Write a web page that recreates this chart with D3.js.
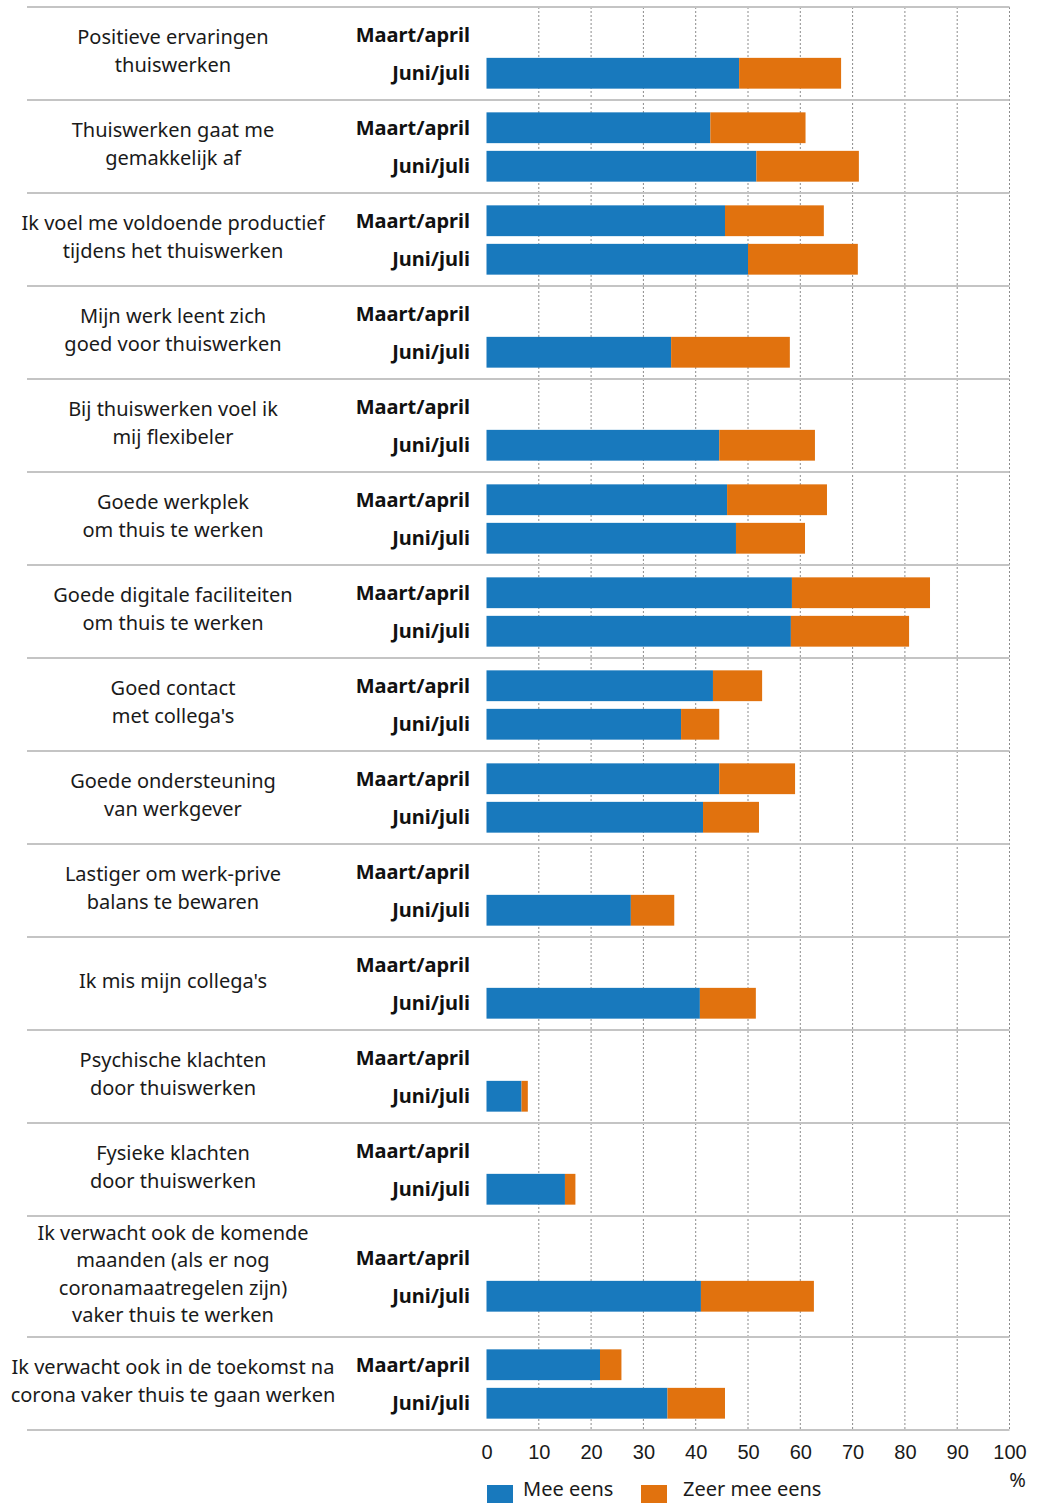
<!DOCTYPE html>
<html>
<head>
<meta charset="utf-8">
<script src="https://cdn.jsdelivr.net/npm/d3@7"></script>
<style>
  body { margin: 0; background: #fff; }
  svg { font-family: "Noto Sans", sans-serif; }
  .cat-label { font-size: 20px; fill: #1a1a1a; text-anchor: middle; }
  .period-label { font-size: 20px; font-weight: bold; fill: #111; text-anchor: end; }
  .axis text { font-size: 20px; fill: #1a1a1a; }
  .legend text { font-size: 20px; fill: #1a1a1a; }
</style>
</head>
<body>
<div id="display"></div>
<script>
// category labels, one entry per line of text
const categories = [
  ["Positieve ervaringen", "thuiswerken"],
  ["Thuiswerken gaat me", "gemakkelijk af"],
  ["Ik voel me voldoende productief", "tijdens het thuiswerken"],
  ["Mijn werk leent zich", "goed voor thuiswerken"],
  ["Bij thuiswerken voel ik", "mij flexibeler"],
  ["Goede werkplek", "om thuis te werken"],
  ["Goede digitale faciliteiten", "om thuis te werken"],
  ["Goed contact", "met collega's"],
  ["Goede ondersteuning", "van werkgever"],
  ["Lastiger om werk-prive", "balans te bewaren"],
  ["Ik mis mijn collega's"],
  ["Psychische klachten", "door thuiswerken"],
  ["Fysieke klachten", "door thuiswerken"],
  ["Ik verwacht ook de komende", "maanden (als er nog", "coronamaatregelen zijn)", "vaker thuis te werken"],
  ["Ik verwacht ook in de toekomst na", "corona vaker thuis te gaan werken"]
];
const periods = ["Maart/april", "Juni/juli"];
const seriesNames = ["Mee eens", "Zeer mee eens"];

// null = not asked in that period
const meeEensMaart  = [null, 42.8, 45.6, null, null, 46.0, 58.4, 43.3, 44.5, null, null, null, null, null, 21.7];
const zeerMeeMaart  = [null, 18.2, 18.9, null, null, 19.1, 26.4,  9.4, 14.5, null, null, null, null, null,  4.1];
const meeEensJuni   = [48.3, 51.6, 50.0, 35.3, 44.5, 47.7, 58.2, 37.2, 41.4, 27.6, 40.8, 6.7, 15.0, 41.0, 34.6];
const zeerMeeJuni   = [19.5, 19.6, 21.0, 22.7, 18.3, 13.2, 22.6,  7.3, 10.7,  8.3, 10.7, 1.2,  2.0, 21.6, 11.0];

const xTicks = [0, 10, 20, 30, 40, 50, 60, 70, 80, 90, 100];
const colors = ["#1879bd", "#e1720e"];

const width = 1038, height = 1503;
const top0 = 7;
const lineLeft = 27;

const svg = d3.select("#display").append("svg")
  .attr("width", width)
  .attr("height", height);

const x = d3.scaleLinear().domain([0, 100]).range([486.5, 1009.5]);

// group positions
const groupH = categories.map(c => Math.max(93, c.length * 28 + 9));
const groupTop = [];
let acc = top0;
groupH.forEach(h => { groupTop.push(acc); acc += h; });
const plotBottom = acc;

const inner = d3.scaleBand().domain(periods).range([-38, 39]).paddingInner(0.2).paddingOuter(0.1);

// rows
const rows = [];
categories.forEach((c, i) => {
  rows.push({ cat: i, period: periods[0], mee: meeEensMaart[i], zeer: zeerMeeMaart[i] });
  rows.push({ cat: i, period: periods[1], mee: meeEensJuni[i], zeer: zeerMeeJuni[i] });
});
const rowsWithData = rows.filter(r => r.mee !== null);
const stacked = d3.stack().keys(["mee", "zeer"])(rowsWithData);

const center = i => groupTop[i] + groupH[i] / 2;

// dotted gridlines
svg.append("g").selectAll("line")
  .data(xTicks.filter(t => t > 0))
  .join("line")
  .attr("x1", d => x(d)).attr("x2", d => x(d))
  .attr("y1", top0).attr("y2", plotBottom)
  .attr("stroke", "#8c8c8c")
  .attr("stroke-width", 1)
  .attr("stroke-dasharray", "2,2");

// bars
stacked.forEach((layer, k) => {
  svg.append("g").attr("fill", colors[k])
    .selectAll("rect")
    .data(layer)
    .join("rect")
    .attr("x", d => x(d[0]))
    .attr("width", d => x(d[1]) - x(d[0]))
    .attr("y", d => center(d.data.cat) + inner(d.data.period))
    .attr("height", inner.bandwidth());
});

// separators
const seps = groupTop.concat([plotBottom]);
svg.append("g").selectAll("line")
  .data(seps)
  .join("line")
  .attr("x1", lineLeft).attr("x2", x(100))
  .attr("y1", d => d).attr("y2", d => d)
  .attr("stroke", "#c4c4c4")
  .attr("stroke-width", 2);

// category labels
categories.forEach((lines, i) => {
  const t = svg.append("text").attr("class", "cat-label");
  lines.forEach((ln, j) => {
    t.append("tspan")
      .attr("x", 173)
      .attr("y", center(i) + (j - (lines.length - 1) / 2) * 27.5 + 4.5)
      .text(ln);
  });
  periods.forEach(p => {
    svg.append("text").attr("class", "period-label")
      .attr("x", 470)
      .attr("y", center(i) + inner(p) + inner.bandwidth() / 2 + 7)
      .text(p);
  });
});

// x axis
const gX = svg.append("g").attr("class", "axis")
  .attr("transform", `translate(0,${plotBottom})`)
  .call(d3.axisBottom(x).tickValues(xTicks).tickSize(0).tickPadding(15));
gX.select(".domain").remove();
gX.selectAll("text").attr("font-family", null).attr("font-size", null);

svg.append("text")
  .attr("x", x(100) + 8).attr("y", 1487)
  .attr("text-anchor", "middle")
  .style("font-size", "20px").attr("fill", "#1a1a1a")
  .text("%");

// legend
const legendX = [487, 641];
const legendTextX = [523, 683];
const legend = svg.append("g").attr("class", "legend");
seriesNames.forEach((s, k) => {
  legend.append("rect")
    .attr("x", legendX[k]).attr("y", 1485)
    .attr("width", 26).attr("height", 18)
    .attr("fill", colors[k]);
  legend.append("text")
    .attr("x", legendTextX[k]).attr("y", 1496)
    .text(s);
});
</script>
</body>
</html>
